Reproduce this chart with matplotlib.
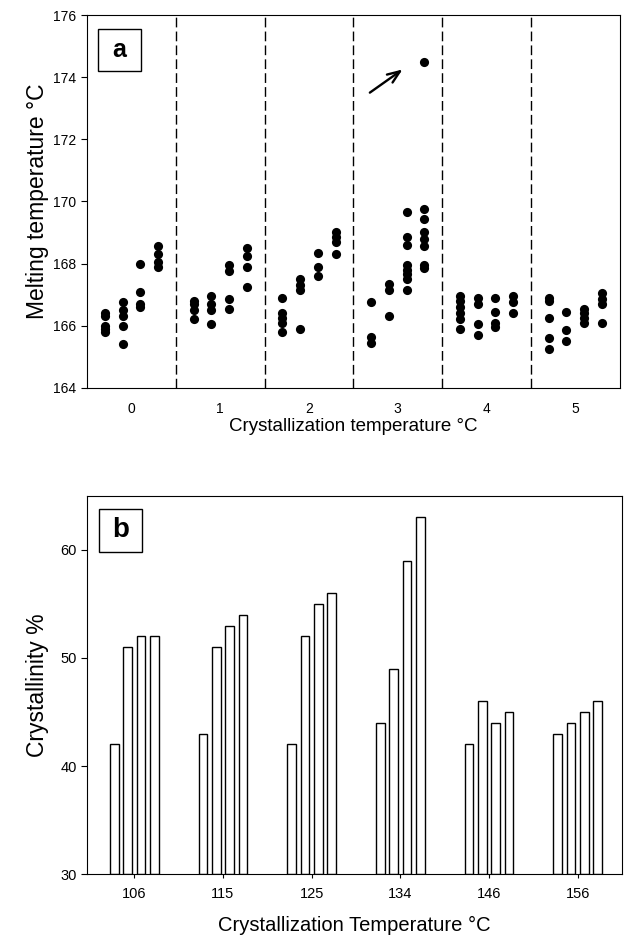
import matplotlib
matplotlib.use("Agg")
import matplotlib.pyplot as plt
from matplotlib.patches import Rectangle

plt.rcParams['font.family'] = ['Liberation Sans', 'DejaVu Sans']

# panel a: melting temperatures, 4 columns of points per group
melt_0 = [[166.4, 166.3, 166.0, 165.9, 165.8],
          [166.75, 166.5, 166.3, 166.0, 165.4],
          [168.0, 167.1, 166.7, 166.6],
          [168.55, 168.3, 168.05, 167.9]]
melt_1 = [[166.8, 166.7, 166.5, 166.2],
          [166.95, 166.7, 166.5, 166.05],
          [167.95, 167.75, 166.85, 166.55],
          [168.5, 168.25, 167.9, 167.25]]
melt_2 = [[166.9, 166.4, 166.25, 166.1, 165.8],
          [167.5, 167.3, 167.15, 165.9],
          [168.35, 167.9, 167.6],
          [169.0, 168.85, 168.7, 168.3]]
melt_3 = [[166.75, 165.65, 165.45],
          [167.35, 167.15, 166.3],
          [169.65, 168.85, 168.6, 167.95, 167.8, 167.65, 167.5, 167.15],
          [174.5, 169.75, 169.45, 169.0, 168.8, 168.55, 167.95, 167.85]]
melt_4 = [[166.95, 166.8, 166.6, 166.4, 166.2, 165.9],
          [166.9, 166.7, 166.05, 165.7],
          [166.9, 166.45, 166.1, 165.95],
          [166.95, 166.75, 166.4]]
melt_5 = [[166.9, 166.8, 166.25, 165.6, 165.25],
          [166.45, 165.85, 165.5],
          [166.55, 166.4, 166.25, 166.1],
          [167.05, 166.85, 166.7, 166.1]]
melt_groups = [melt_0, melt_1, melt_2, melt_3, melt_4, melt_5]
group_labels = ['0', '1', '2', '3', '4', '5']

# panel b: crystallinity, 4 bars per crystallization temperature
temps = ['106', '115', '125', '134', '146', '156']
run1 = [42, 43, 42, 44, 42, 43]
run2 = [51, 51, 52, 49, 46, 44]
run3 = [52, 53, 55, 59, 44, 45]
run4 = [52, 54, 56, 63, 45, 46]

fig = plt.figure(figsize=(6.26, 9.39), dpi=100)

# ---- panel a ----
ax1 = fig.add_axes([0.139, 0.587, 0.851, 0.397])
offs = [-0.3, -0.1, 0.1, 0.3]
for g, grp in enumerate(melt_groups):
    for k, col in enumerate(grp):
        ax1.plot([g + offs[k]] * len(col), col, 'o', color='black', ms=6.6, mew=0)
for b in range(1, 6):
    ax1.axvline(b - 0.5, color='black', lw=1, ls=(0, (7, 3)))
ax1.set_xlim(-0.5, 5.5)
ax1.set_ylim(164, 176)
ax1.set_yticks(range(164, 177, 2))
ax1.set_xticks(range(6))
ax1.set_xticklabels(group_labels)
ax1.tick_params(axis='x', length=0, pad=10, labelsize=10)
ax1.tick_params(axis='y', length=4, labelsize=10)
ax1.set_xlabel('Crystallization temperature °C', fontsize=13.5, labelpad=2)
ax1.set_ylabel('Melting temperature °C', fontsize=16.5, labelpad=3)
ax1.annotate('', xy=(3.08, 174.3), xytext=(2.66, 173.45),
             arrowprops=dict(arrowstyle='->,head_length=0.9,head_width=0.35', lw=1.7, color='black'))
ax1.add_patch(Rectangle((0.021, 0.85), 0.08, 0.1125, transform=ax1.transAxes,
                        fill=False, lw=1, ec='black'))
ax1.text(0.061, 0.905, 'a', transform=ax1.transAxes, ha='center', va='center',
         fontsize=18, fontweight='bold')

# ---- panel b ----
ax2 = fig.add_axes([0.1395, 0.069, 0.854, 0.403])
x = list(range(len(temps)))
w = 0.097
boffs = [-0.225, -0.075, 0.075, 0.225]
for k, series in enumerate([run1, run2, run3, run4]):
    ax2.bar([i + boffs[k] for i in x], [v - 30 for v in series], bottom=30, width=w,
            color='white', edgecolor='black', lw=1)
ax2.set_xlim(-0.53, 5.5)
ax2.set_ylim(30, 65)
ax2.set_yticks([30, 40, 50, 60])
ax2.set_xticks(x)
ax2.set_xticklabels(temps)
ax2.tick_params(axis='x', length=3, pad=6, labelsize=10.5)
ax2.tick_params(axis='y', length=4, labelsize=10.5)
ax2.set_xlabel('Crystallization Temperature °C', fontsize=14.5, labelpad=11)
ax2.set_ylabel('Crystallinity %', fontsize=16.5, labelpad=8)
ax2.add_patch(Rectangle((0.022, 0.852), 0.08, 0.114, transform=ax2.transAxes,
                        fill=False, lw=1, ec='black'))
ax2.text(0.062, 0.909, 'b', transform=ax2.transAxes, ha='center', va='center',
         fontsize=20, fontweight='bold')

fig.savefig('out.png', dpi=100)
